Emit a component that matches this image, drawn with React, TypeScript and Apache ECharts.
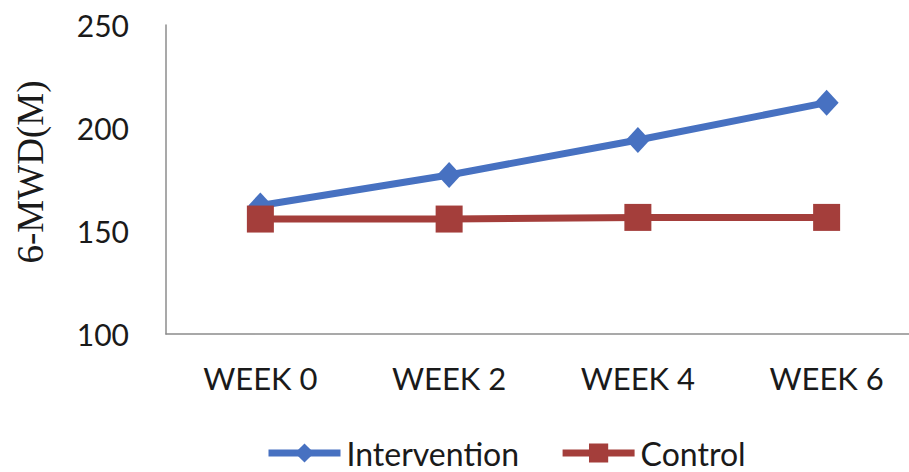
import React, { useEffect, useRef } from "react";
import * as echarts from "echarts";

const weeks = ["WEEK 0", "WEEK 2", "WEEK 4", "WEEK 6"];
const intervention = [162.4, 177.2, 194.2, 212.3];
const control = [155.8, 155.8, 156.6, 156.6];
const yTicks = { min: 100, max: 250, interval: 50 };
const yTitle = "6-MWD(M)";

const BLUE = "#4771C1";
const RED = "#A43E3B";
const FONT = "Lato";

export default function App() {
  const ref = useRef<HTMLDivElement>(null);

  useEffect(() => {
    if (!ref.current) return;
    const chart = echarts.init(ref.current, null, { renderer: "svg" });
    chart.setOption({
      animation: false,
      backgroundColor: "#ffffff",
      grid: {
        left: 166,
        top: 25,
        width: 755,
        height: 309,
        containLabel: false,
        outerBoundsMode: "none",
      },
      graphic: [
        {
          type: "text",
          x: 30,
          y: 172,
          rotation: Math.PI / 2,
          style: {
            text: yTitle,
            fontFamily: "Liberation Serif",
            fontSize: 37,
            fill: "#1a1a1a",
            align: "center",
            verticalAlign: "middle",
          },
        },
      ],
      xAxis: {
        type: "category",
        data: weeks,
        boundaryGap: true,
        axisLine: { lineStyle: { color: "#8c8c8c", width: 1.5 } },
        axisTick: { show: false },
        axisLabel: { color: "#1a1a1a", fontFamily: FONT, fontSize: 31, margin: 28 },
      },
      yAxis: {
        type: "value",
        min: yTicks.min,
        max: yTicks.max,
        interval: yTicks.interval,
        axisLine: { show: true, lineStyle: { color: "#8c8c8c", width: 1.5 } },
        axisTick: { show: false },
        splitLine: { show: false },
        axisLabel: { color: "#1a1a1a", fontFamily: FONT, fontSize: 30, margin: 37 },
      },
      legend: {
        left: 265,
        top: 436,
        padding: 0,
        itemWidth: 72,
        itemHeight: 24,
        itemGap: 40,
        lineStyle: { width: 7 },
        textStyle: {
          fontFamily: FONT,
          fontSize: 32,
          lineHeight: 34,
          color: "#1a1a1a",
          padding: [0, 0, 0, 1],
        },
        data: ["Intervention", "Control"],
      },
      series: [
        {
          name: "Intervention",
          type: "line",
          data: intervention,
          symbol: "diamond",
          symbolSize: [24, 26],
          color: BLUE,
          lineStyle: { color: BLUE, width: 7 },
          itemStyle: { color: BLUE },
        },
        {
          name: "Control",
          type: "line",
          data: control,
          symbol: "rect",
          symbolSize: 27,
          color: RED,
          lineStyle: { color: RED, width: 7 },
          itemStyle: { color: RED },
        },
      ],
    });
    return () => chart.dispose();
  }, []);

  return (
    <div
      ref={ref}
      style={{ position: "fixed", left: 0, top: 0, width: 909, height: 472, background: "#fff" }}
    />
  );
}
